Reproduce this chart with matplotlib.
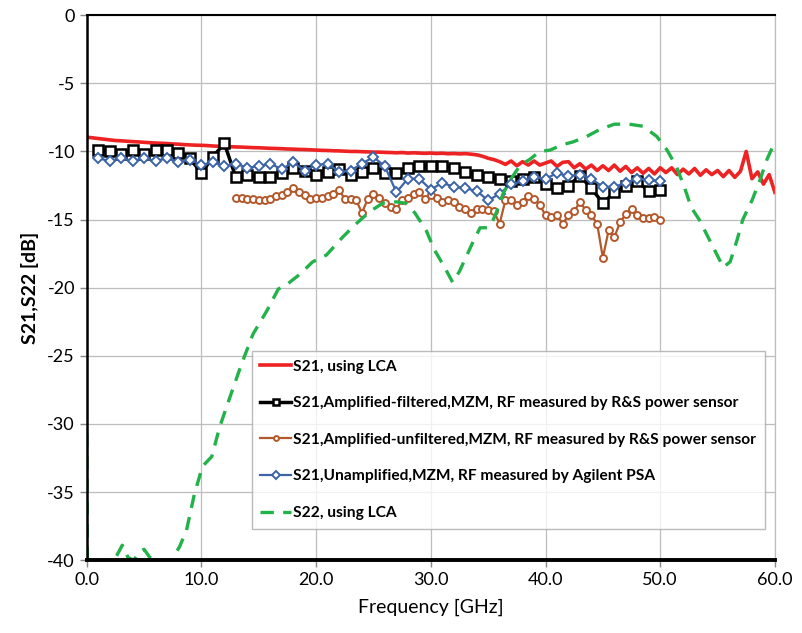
import numpy as np
import matplotlib
matplotlib.use("Agg")
import matplotlib.pyplot as plt

plt.rcParams['font.family'] = ['Lato', 'DejaVu Sans']
plt.rcParams['axes.unicode_minus'] = False

# S21 using LCA, sampled every 0.5 GHz from 0 to 60
red_f = np.arange(0, 60.01, 0.5)
red_v = [-8.95, -9.0, -9.05, -9.1, -9.15, -9.2, -9.22, -9.25, -9.28, -9.3,
         -9.33, -9.36, -9.38, -9.4, -9.42, -9.45, -9.47, -9.5, -9.52, -9.54,
         -9.55, -9.57, -9.6, -9.62, -9.63, -9.65, -9.67, -9.68, -9.7, -9.72,
         -9.73, -9.75, -9.77, -9.78, -9.8, -9.82, -9.83, -9.85, -9.86, -9.88,
         -9.9, -9.92, -9.93, -9.95, -9.96, -9.98, -10.0, -10.0, -10.02, -10.03,
         -10.05, -10.05, -10.07, -10.08, -10.1, -10.08, -10.12, -10.1, -10.12, -10.14,
         -10.12, -10.15, -10.13, -10.17, -10.15, -10.18, -10.16, -10.2, -10.25, -10.35,
         -10.5, -10.6, -10.75, -10.95, -10.7, -11.05, -10.75, -11.0, -10.7, -11.0,
         -10.85, -10.7, -11.1, -10.8, -10.75, -11.2, -10.9, -11.3, -11.0, -11.4,
         -11.05, -11.4, -11.0, -11.45, -11.1, -11.55, -11.2, -11.6, -11.25, -11.65,
         -11.2, -11.55, -11.2, -11.7, -11.3, -11.65, -11.25, -11.75, -11.35, -11.7,
         -11.4, -11.85, -11.4, -11.9, -11.45, -10.0, -12.0, -11.5, -12.4, -11.7,
         -13.0]

# Amplified-filtered (black squares), 1..50 GHz
blk_f = np.arange(1, 51)
blk_v = [-9.9, -10.0, -10.2, -9.9, -10.2, -9.9, -9.9, -10.1, -10.5, -11.6,
         -10.4, -9.4, -11.9, -11.7, -11.9, -11.9, -11.6, -11.25, -11.4, -11.7,
         -11.5, -11.3, -11.7, -11.5, -11.2, -11.6, -11.6, -11.2, -11.1, -11.1,
         -11.1, -11.2, -11.5, -11.7, -11.9, -12.0, -12.2, -12.0, -11.9, -12.4,
         -12.7, -12.5, -11.8, -12.7, -13.8, -13.0, -12.5, -12.2, -12.9, -12.8]

# Amplified-unfiltered (brown circles), 13..50 GHz step 0.5
brn_f = np.arange(13, 50.01, 0.5)
brn_v = [-13.4, -13.4, -13.5, -13.5, -13.6, -13.6, -13.5, -13.3, -13.2, -13.0,
         -12.7, -13.0, -13.2, -13.5, -13.4, -13.4, -13.3, -13.1, -12.8, -13.5,
         -13.5, -13.6, -14.5, -13.5, -13.1, -13.4, -13.8, -14.1, -14.2, -13.6,
         -13.4, -13.1, -13.0, -13.5, -13.2, -13.4, -13.7, -13.6, -13.7, -14.1,
         -14.2, -14.5, -14.2, -14.2, -14.3, -14.4, -15.3, -13.6, -13.6, -13.9,
         -13.7, -13.3, -13.5, -13.9, -14.7, -14.8, -14.7, -15.3, -14.7, -14.4,
         -13.7, -14.3, -14.7, -15.3, -17.8, -15.8, -16.3, -15.2, -14.6, -14.2,
         -14.7, -14.9, -14.9, -14.8, -15.0]

# Unamplified (blue diamonds), 1..50 GHz
blu_f = np.arange(1, 51)
blu_v = [-10.5, -10.7, -10.5, -10.7, -10.5, -10.7, -10.5, -10.8, -10.6, -11.0,
         -10.8, -11.1, -10.9, -11.2, -11.1, -10.9, -11.3, -10.8, -11.4, -11.0,
         -10.9, -11.5, -11.4, -10.9, -10.4, -11.1, -13.0, -12.0, -12.0, -12.8,
         -12.3, -12.6, -12.7, -12.9, -13.6, -13.1, -12.4, -12.2, -11.9, -12.0,
         -11.6, -11.8, -11.7, -12.0, -12.6, -12.6, -12.3, -12.0, -12.1, -12.2]

# S22 using LCA
grn_f = [0, 0.05, 0.5, 1.5, 2.4, 3.1, 3.6, 4.1, 4.6, 5.0, 5.5, 6.0, 7.4, 8.1,
         8.7, 9.4, 10.1, 10.9, 11.6, 12.5, 13.5, 14.5, 15.7, 16.7, 17.4, 18.6,
         19.7, 20.9, 22.3, 23.5, 24.7, 25.8, 27.0, 27.8, 28.6, 29.6, 30.3, 31.2,
         31.9, 32.5, 33.1, 33.7, 34.3, 34.9, 35.3, 35.8, 36.3, 37.0, 37.8, 38.6,
         39.5, 40.4, 41.5, 42.4, 43.6, 44.7, 46.0, 47.3, 48.5, 49.7, 50.6, 51.4,
         52.1, 52.7, 53.4, 54.0, 54.6, 55.2, 55.5, 56.1, 56.7, 57.2, 58.0, 58.7,
         59.3, 60.0]
grn_v = [-30.7, -40, -40, -40, -40, -38.9, -39.8, -40, -39.4, -39.2, -39.8, -40,
         -40, -39.0, -37.8, -35.1, -33.1, -32.4, -30.2, -28.0, -25.6, -23.4, -21.7,
         -20.1, -19.8, -19.0, -18.1, -17.6, -16.3, -15.3, -14.4, -13.8, -13.7, -13.8,
         -14.5, -15.8, -17.2, -18.5, -19.6, -18.8, -17.7, -16.6, -15.6, -15.6, -15.3,
         -14.3, -13.1, -12.0, -11.0, -10.6, -10.0, -9.9, -9.5, -9.3, -8.9, -8.4,
         -8.0, -8.0, -8.15, -8.9, -9.9, -11.1, -12.6, -14.1, -15.0, -16.0, -17.0,
         -18.0, -18.5, -18.1, -16.5, -15.0, -13.6, -12.1, -10.6, -9.3]

labels = ["S21, using LCA",
          "S21,Amplified-filtered,MZM, RF measured by R&S power sensor",
          "S21,Amplified-unfiltered,MZM, RF measured by R&S power sensor",
          "S21,Unamplified,MZM, RF measured by Agilent PSA",
          "S22, using LCA"]

fig = plt.figure(figsize=(8.03, 6.33), dpi=100)
ax = fig.add_axes([0.108, 0.115, 0.857, 0.861])

ax.plot(red_f, red_v, color='#ee2222', lw=2.6, label=labels[0])
ax.plot(blk_f, blk_v, color='black', lw=2.5, marker='s', ms=6.5,
        mfc='white', mec='black', mew=1.8, label=labels[1])
ax.plot(brn_f, brn_v, color='#b3582a', lw=1.6, marker='o', ms=5,
        mfc='white', mec='#b3582a', mew=1.4, label=labels[2])
ax.plot(blu_f, blu_v, color='#3c64a6', lw=1.6, marker='D', ms=5.5,
        mfc='white', mec='#3c64a6', mew=1.4, label=labels[3])
ax.plot(grn_f, grn_v, color='#22b24a', lw=2.4, ls=(0, (4, 2.8)),
        label=labels[4])

ax.set_xlim(0, 60)
ax.set_ylim(-40, 0)
ax.set_xticks(np.arange(0, 61, 10))
ax.set_xticklabels([f"{v:.1f}" for v in np.arange(0, 61, 10)])
ax.set_yticks(np.arange(-40, 1, 5))
ax.grid(True, color='#bdbdbd', lw=0.9)
ax.set_axisbelow(True)

for side in ['left', 'bottom']:
    ax.spines[side].set_color('black')
ax.spines['left'].set_linewidth(1.8)
ax.spines['bottom'].set_linewidth(2.8)
ax.spines['top'].set_linewidth(1.5)
ax.spines['right'].set_color('#bdbdbd')
ax.spines['right'].set_linewidth(0.9)

ax.tick_params(axis='both', labelsize=13, direction='out', length=5,
               width=1, color='#888888')
ax.set_xlabel("Frequency [GHz]", fontsize=14, labelpad=8)
ax.set_ylabel("S21,S22 [dB]", fontsize=14, fontweight='bold', labelpad=6)

leg = ax.legend(loc='lower right', bbox_to_anchor=(0.985, 0.058),
                prop={'weight': 'bold', 'size': 11.2}, markerscale=0.7,
                frameon=True, fancybox=False, edgecolor='#aaaaaa',
                handlelength=2.0, handletextpad=0.1, labelspacing=1.45,
                borderpad=0.55, borderaxespad=0)
leg.get_frame().set_linewidth(1.0)

fig.savefig("out.png", dpi=100)
